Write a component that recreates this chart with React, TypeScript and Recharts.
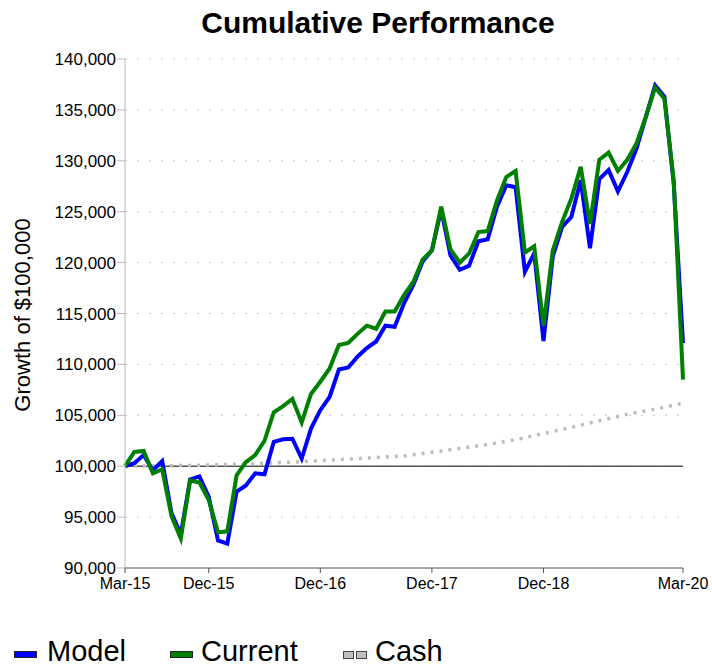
import React from "react"
import {
  LineChart,
  Line,
  XAxis,
  YAxis,
  CartesianGrid,
  ReferenceLine,
} from "recharts"

const MONTHS = [
  "Mar-15", "Apr-15", "May-15", "Jun-15", "Jul-15", "Aug-15", "Sep-15", "Oct-15", "Nov-15", "Dec-15",
  "Jan-16", "Feb-16", "Mar-16", "Apr-16", "May-16", "Jun-16", "Jul-16", "Aug-16", "Sep-16", "Oct-16",
  "Nov-16", "Dec-16", "Jan-17", "Feb-17", "Mar-17", "Apr-17", "May-17", "Jun-17", "Jul-17", "Aug-17",
  "Sep-17", "Oct-17", "Nov-17", "Dec-17", "Jan-18", "Feb-18", "Mar-18", "Apr-18", "May-18", "Jun-18",
  "Jul-18", "Aug-18", "Sep-18", "Oct-18", "Nov-18", "Dec-18", "Jan-19", "Feb-19", "Mar-19", "Apr-19",
  "May-19", "Jun-19", "Jul-19", "Aug-19", "Sep-19", "Oct-19", "Nov-19", "Dec-19", "Jan-20", "Feb-20",
  "Mar-20",
]

const MODEL = [
  100000, 100300, 101100, 99600, 100500, 95400, 93300, 98700, 99000, 97000,
  92700, 92400, 97500, 98100, 99300, 99200, 102400, 102650, 102700, 100750,
  103700, 105500, 106800, 109500, 109700, 110750, 111600, 112250, 113800, 113700,
  116000, 117800, 120100, 121200, 125200, 120700, 119300, 119700, 122100, 122300,
  125500, 127600, 127400, 119100, 120900, 112300, 120600, 123500, 124500, 128100,
  121400, 128200, 129100, 127000, 128900, 131200, 134300, 137400, 136300, 127800,
  112100,
]

const CURRENT = [
  100000, 101400, 101500, 99300, 99700, 95100, 92900, 98600, 98400, 96700,
  93500, 93600, 99100, 100400, 101100, 102500, 105300, 105900, 106600, 104300,
  107100, 108300, 109600, 111900, 112100, 113000, 113800, 113500, 115200, 115200,
  116800, 118100, 120300, 121200, 125500, 121300, 120000, 120900, 123000, 123100,
  126100, 128400, 129000, 121000, 121600, 113800, 121200, 124000, 126300, 129400,
  123800, 130100, 130800, 129000, 130100, 131700, 134300, 137200, 136100, 128100,
  108500,
]

const CASH = [
  100000, 100010, 100020, 100030, 100040, 100050, 100060, 100080, 100100, 100120,
  100140, 100170, 100200, 100230, 100260, 100300, 100330, 100370, 100400, 100450,
  100500, 100550, 100600, 100650, 100700, 100750, 100800, 100850, 100900, 100950,
  101000, 101120, 101250, 101380, 101500, 101620, 101750, 101880, 102000, 102150,
  102300, 102450, 102600, 102800, 103000, 103200, 103400, 103610, 103820, 104030,
  104250, 104460, 104670, 104880, 105100, 105270, 105430, 105600, 105800, 106000,
  106200,
]

const X_TICKS = ["Mar-15", "Dec-15", "Dec-16", "Dec-17", "Dec-18", "Mar-20"]
const Y_TICKS = [90000, 95000, 100000, 105000, 110000, 115000, 120000, 125000, 130000, 135000, 140000]

const data = MONTHS.map((m, i) => ({
  idx: i,
  month: m,
  model: MODEL[i],
  current: CURRENT[i],
  cash: CASH[i],
}))

const xTickIdx = X_TICKS.map((t) => MONTHS.indexOf(t))

const FONT = "'Liberation Sans', Arial, sans-serif"

if (typeof document !== "undefined") {
  document.body.style.margin = "0"
  document.documentElement.style.overflow = "hidden"
}

const swatch = (left: number, width: number, color: string, border: string): React.CSSProperties => ({
  position: "absolute",
  left,
  top: 651,
  width,
  height: 5,
  background: color,
  border: `1px solid ${border}`,
})

const label = (left: number): React.CSSProperties => ({
  position: "absolute",
  left,
  top: 635,
  fontSize: 29,
  lineHeight: "33px",
  whiteSpace: "nowrap",
})

export default function App() {
  return (
    <div style={{ position: "relative", width: 712, height: 666, overflow: "hidden", fontFamily: FONT, background: "#fff" }}>
      <div
        style={{
          position: "absolute",
          top: 6,
          left: 0,
          width: 756,
          textAlign: "center",
          fontSize: 30,
          fontWeight: "bold",
        }}
      >
        Cumulative Performance
      </div>
      <div
        style={{
          position: "absolute",
          left: 23,
          top: 315,
          transform: "translate(-50%, -50%) rotate(-90deg)",
          fontSize: 22,
          whiteSpace: "nowrap",
        }}
      >
        Growth of $100,000
      </div>
      <div style={{ position: "absolute", left: 0, top: 0 }}>
        <LineChart width={712} height={666} data={data} margin={{ top: 59, right: 29, bottom: 68, left: 45 }}>
          <CartesianGrid vertical={false} stroke="#c8c8c8" strokeDasharray="2 10" />
          <XAxis
            dataKey="idx"
            type="number"
            domain={[0, 60]}
            ticks={xTickIdx}
            tickFormatter={(v: number) => MONTHS[v]}
            height={30}
            stroke="#555"
            tickSize={5}
            tickMargin={5}
            tick={{ fill: "#000", fontSize: 16, fontFamily: FONT }}
          />
          <YAxis
            domain={[90000, 140000]}
            ticks={Y_TICKS}
            width={80}
            stroke="#bbb"
            tickSize={8}
            tickMargin={1}
            tickFormatter={(v: number) => v.toLocaleString("en-US")}
            tick={{ fill: "#000", fontSize: 17, fontFamily: FONT }}
          />
          <ReferenceLine y={100000} stroke="#555" strokeWidth={1.5} />
          <Line dataKey="cash" stroke="#bdbdbd" strokeWidth={3.5} strokeDasharray="3 6" dot={false} isAnimationActive={false} />
          <Line dataKey="model" stroke="#0000ff" strokeWidth={4} dot={false} isAnimationActive={false} />
          <Line dataKey="current" stroke="#008000" strokeWidth={4} dot={false} isAnimationActive={false} />
        </LineChart>
      </div>
      <div style={swatch(14, 21, "#0000ff", "#222")} />
      <div style={label(47)}>Model</div>
      <div style={swatch(170, 21, "#008000", "#222")} />
      <div style={label(201)}>Current</div>
      <div style={{ ...swatch(343, 9, "#c0c0c0", "#444"), height: 6 }} />
      <div style={{ ...swatch(356, 9, "#c0c0c0", "#444"), height: 6 }} />
      <div style={label(375)}>Cash</div>
    </div>
  )
}
